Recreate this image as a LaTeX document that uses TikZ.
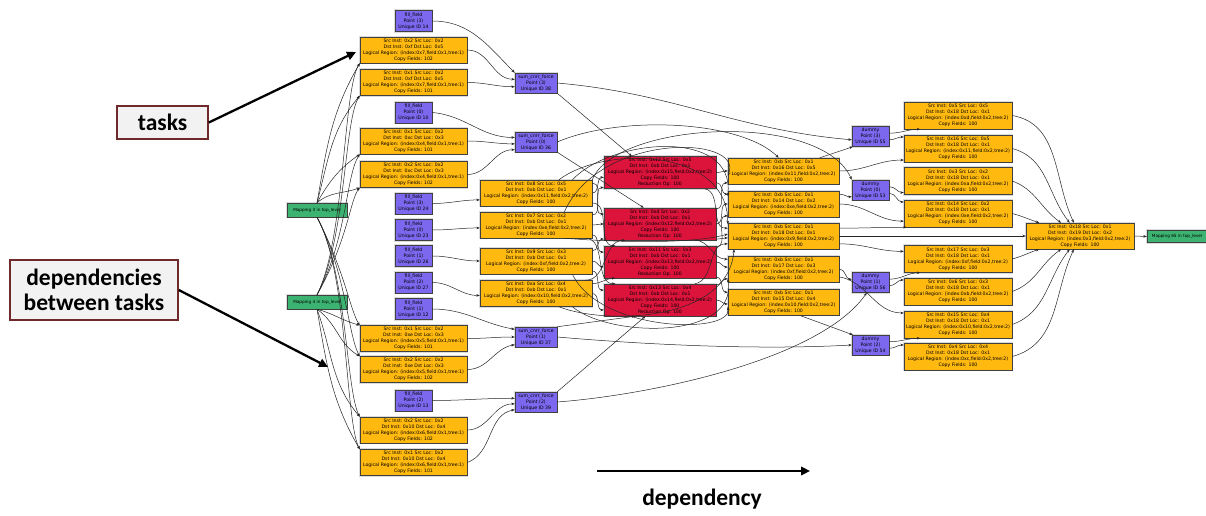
\documentclass[tikz,border=0pt]{standalone}
\usepackage{fontspec}
\newfontfamily\labfont{Carlito}
\newfontfamily\boxfont{DejaVu Sans}
\usetikzlibrary{arrows.meta}
\definecolor{gorange}{HTML}{FFB90F}
\definecolor{gred}{HTML}{DC143C}
\definecolor{gpurple}{HTML}{7B68EE}
\definecolor{ggreen}{HTML}{3CB371}
\definecolor{callborder}{HTML}{6E2A2A}
\definecolor{callfill}{HTML}{F2F2F2}
\newcommand\cpbox[6]{Src Inst: #1 Src Loc: #2\\Dst Inst: #3 Dst Loc: #4\\Logical Region: (#5)\\Copy Fields: #6}
\newcommand\rdbox[5]{Src Inst: #1 Src Loc: #2\\Dst Inst: #3 Dst Loc: #4\\Logical Region: (#5)\\Copy Fields: 100\\Reduction Op: 100}
\begin{document}
\begin{tikzpicture}[x=1pt,y=-1pt,
  gbox/.style={draw=black!75, line width=0.5pt, inner sep=0pt, align=center,
    font=\boxfont\fontsize{4.65pt}{5.9pt}\selectfont,
    preaction={draw=black!14, line width=2.4pt}},
  ob/.style={gbox, fill=gorange, minimum width=107pt, minimum height=26pt},
  rb/.style={gbox, fill=gred, minimum width=112pt, minimum height=32pt},
  pb/.style={gbox, fill=gpurple, minimum width=37pt, minimum height=21pt},
  gb/.style={gbox, fill=ggreen, minimum width=60pt, minimum height=14pt,
    font=\boxfont\fontsize{4.2pt}{5pt}\selectfont},
  e/.style={draw=black!85, line width=0.5pt, -{Stealth[length=3.4pt,width=2.6pt]}},
  call/.style={draw=callborder, line width=1.6pt, fill=callfill,
    font=\labfont\bfseries\fontsize{23.5pt}{25pt}\selectfont, inner sep=0pt, align=center},
  big/.style={line width=2.3pt, -{Triangle[length=9pt,width=8.5pt]}}
]
\fill[white] (0,0) rectangle (1206,516);
\useasboundingbox (0,0) rectangle (1206,516);

% ---------------- left column
\node[pb] (f14) at (413.5,21) {fill\_field\\Point (3)\\Unique ID 14};
\node[ob] (o1) at (413.5,50) {\cpbox{0x2}{0x2}{0xf}{0x5}{index:0x7,field:0x1,tree:1}{102}};
\node[ob] (o2) at (413.5,82.5) {\cpbox{0x1}{0x2}{0xf}{0x5}{index:0x7,field:0x1,tree:1}{101}};
\node[pb] (f10) at (413.5,112.5) {fill\_field\\Point (0)\\Unique ID 10};
\node[ob] (o3) at (413.5,141) {\cpbox{0x1}{0x2}{0xc}{0x3}{index:0x4,field:0x1,tree:1}{101}};
\node[ob] (o4) at (413.5,174.5) {\cpbox{0x2}{0x2}{0xc}{0x3}{index:0x4,field:0x1,tree:1}{102}};
\node[pb] (f24) at (413.5,203.5) {fill\_field\\Point (3)\\Unique ID 24};
\node[pb] (f23) at (413.5,230) {fill\_field\\Point (0)\\Unique ID 23};
\node[pb] (f26) at (413.5,256) {fill\_field\\Point (1)\\Unique ID 26};
\node[pb] (f27) at (413.5,282.5) {fill\_field\\Point (2)\\Unique ID 27};
\node[pb] (f12) at (413.5,309) {fill\_field\\Point (1)\\Unique ID 12};
\node[ob] (o5) at (413.5,338.5) {\cpbox{0x1}{0x2}{0xe}{0x3}{index:0x5,field:0x1,tree:1}{101}};
\node[ob] (o6) at (413.5,369.5) {\cpbox{0x2}{0x2}{0xe}{0x3}{index:0x5,field:0x1,tree:1}{102}};
\node[pb] (f13) at (413.5,400.5) {fill\_field\\Point (2)\\Unique ID 13};
\node[ob] (o7) at (413.5,430) {\cpbox{0x2}{0x2}{0x10}{0x4}{index:0x6,field:0x1,tree:1}{102}};
\node[ob] (o8) at (413.5,462.5) {\cpbox{0x1}{0x2}{0x10}{0x4}{index:0x6,field:0x1,tree:1}{101}};
\node[gb] (m3) at (317,210) {Mapping 3 in top\_level};
\node[gb] (m4) at (317,302) {Mapping 4 in top\_level};

% ---------------- sum column
\node[pb, minimum width=42pt, minimum height=20pt] (s38) at (536,83) {sum\_cnrr\_force\\Point (3)\\Unique ID 38};
\node[pb, minimum width=42pt, minimum height=20pt] (s36) at (536,142) {sum\_cnrr\_force\\Point (0)\\Unique ID 36};
\node[pb, minimum width=42pt, minimum height=20pt] (s37) at (536,337) {sum\_cnrr\_force\\Point (1)\\Unique ID 37};
\node[pb, minimum width=42pt, minimum height=20pt] (s39) at (536,402) {sum\_cnrr\_force\\Point (2)\\Unique ID 39};
\node[ob, minimum width=112pt] (mo1) at (536,193) {\cpbox{0x8}{0x5}{0xb}{0x1}{index:0x11,field:0x2,tree:2}{100}};
\node[ob, minimum width=112pt] (mo2) at (536,225) {\cpbox{0x7}{0x2}{0xb}{0x1}{index:0xe,field:0x2,tree:2}{100}};
\node[ob, minimum width=112pt] (mo3) at (536,261) {\cpbox{0x9}{0x3}{0xb}{0x1}{index:0xf,field:0x2,tree:2}{100}};
\node[ob, minimum width=112pt] (mo4) at (536,293.5) {\cpbox{0xa}{0x4}{0xb}{0x1}{index:0x10,field:0x2,tree:2}{100}};

% ---------------- reductions
\node[rb] (r1) at (660,172.5) {\rdbox{0x12}{0x5}{0xb}{0x1}{index:0x15,field:0x2,tree:2}};
\node[rb] (r2) at (660,224) {\rdbox{0xd}{0x2}{0xb}{0x1}{index:0x12,field:0x2,tree:2}};
\node[rb] (r3) at (660,262) {\rdbox{0x11}{0x3}{0xb}{0x1}{index:0x13,field:0x2,tree:2}};
\node[rb] (r4) at (660,300) {\rdbox{0x13}{0x4}{0xb}{0x1}{index:0x14,field:0x2,tree:2}};

% ---------------- right orange column
\node[ob, minimum width=111pt] (ro1) at (783.5,171) {\cpbox{0xb}{0x1}{0x16}{0x5}{index:0x11,field:0x2,tree:2}{100}};
\node[ob, minimum width=111pt] (ro2) at (783.5,204) {\cpbox{0xb}{0x1}{0x14}{0x2}{index:0xe,field:0x2,tree:2}{100}};
\node[ob, minimum width=111pt] (ro3) at (783.5,236) {\cpbox{0xb}{0x1}{0x18}{0x1}{index:0x9,field:0x2,tree:2}{100}};
\node[ob, minimum width=111pt] (ro4) at (783.5,269) {\cpbox{0xb}{0x1}{0x17}{0x3}{index:0xf,field:0x2,tree:2}{100}};
\node[ob, minimum width=111pt] (ro5) at (783.5,302) {\cpbox{0xb}{0x1}{0x15}{0x4}{index:0x10,field:0x2,tree:2}{100}};

% ---------------- dummies
\node[pb, minimum height=20pt] (d55) at (870.5,136.5) {dummy\\Point (3)\\Unique ID 55};
\node[pb, minimum height=20pt] (d53) at (870.5,190) {dummy\\Point (0)\\Unique ID 53};
\node[pb, minimum height=20pt] (d56) at (870.5,282.5) {dummy\\Point (1)\\Unique ID 56};
\node[pb, minimum height=20pt] (d54) at (870.5,345) {dummy\\Point (2)\\Unique ID 54};

% ---------------- far right column
\node[ob, minimum width=108pt, minimum height=27pt] (fr1) at (958,115.5) {\cpbox{0x5}{0x5}{0x18}{0x1}{index:0xd,field:0x2,tree:2}{100}};
\node[ob, minimum width=108pt, minimum height=27pt] (fr2) at (958,148.5) {\cpbox{0x16}{0x5}{0x18}{0x1}{index:0x11,field:0x2,tree:2}{100}};
\node[ob, minimum width=108pt, minimum height=27pt] (fr3) at (958,181) {\cpbox{0x3}{0x2}{0x18}{0x1}{index:0xa,field:0x2,tree:2}{100}};
\node[ob, minimum width=108pt, minimum height=27pt] (fr4) at (958,213.5) {\cpbox{0x14}{0x2}{0x18}{0x1}{index:0xe,field:0x2,tree:2}{100}};
\node[ob, minimum width=108pt, minimum height=27pt] (fr5) at (958,259) {\cpbox{0x17}{0x3}{0x18}{0x1}{index:0xf,field:0x2,tree:2}{100}};
\node[ob, minimum width=108pt, minimum height=27pt] (fr6) at (958,291.5) {\cpbox{0x6}{0x3}{0x18}{0x1}{index:0xb,field:0x2,tree:2}{100}};
\node[ob, minimum width=108pt, minimum height=27pt] (fr7) at (958,324.5) {\cpbox{0x15}{0x4}{0x18}{0x1}{index:0x10,field:0x2,tree:2}{100}};
\node[ob, minimum width=108pt, minimum height=27pt] (fr8) at (958,356.5) {\cpbox{0x4}{0x4}{0x18}{0x1}{index:0xc,field:0x2,tree:2}{100}};
\node[ob, minimum width=108pt] (fin) at (1080,236) {\cpbox{0x18}{0x1}{0x19}{0x2}{index:0x3,field:0x2,tree:2}{100}};
\node[gb, minimum height=12pt] (m65) at (1177,236.5) {Mapping 65 in top\_level};

% ================= edges: mappings to copies
\draw[e] (m3.north) to[out=80,in=240] (o1.south west);
\draw[e] (m3.north) to[out=75,in=230] (o2.south west);
\draw[e] (m3.north) to[out=60,in=215] (o3.south west);
\draw[e] (m3.north) to[out=40,in=200] (o4.south west);
\draw[e] (m4.north) .. controls (345,240) and (343,90) .. (o1.south west);
\draw[e] (m4.north) .. controls (346,240) and (344,120) .. (o2.south west);
\draw[e] (m4.north) .. controls (347,240) and (346,175) .. (o3.south west);
\draw[e] (m4.north) .. controls (348,240) and (350,200) .. (o4.south west);
\draw[e] (m3.south) .. controls (345,272) and (350,310) .. (o5.north west);
\draw[e] (m3.south) .. controls (346,272) and (348,335) .. (o6.north west);
\draw[e] (m3.south) .. controls (347,272) and (346,390) .. (o7.north west);
\draw[e] (m3.south) .. controls (348,272) and (345,420) .. (o8.north west);
\draw[e] (m4.south) to[out=-15,in=165] (o5.north west);
\draw[e] (m4.south) to[out=-35,in=150] (o6.north west);
\draw[e] (m4.south) to[out=-70,in=130] (o7.north west);
\draw[e] (m4.south) to[out=-80,in=120] (o8.north west);

% copies / fills to sums
\draw[e] (f14.east) to[out=0,in=135] (s38.north west);
\draw[e] (o1.east) to[out=0,in=180] (s38.170);
\draw[e] (o2.east) to[out=0,in=180] (s38.190);
\draw[e] (f10.east) to[out=-5,in=180] (s36.168);
\draw[e] (o3.east) to[out=0,in=180] (s36.185);
\draw[e] (o4.east) to[out=0,in=180] (s36.200);
\draw[e] (f24.east) to[out=0,in=180] (mo1.187);
\draw[e] (f23.east) to[out=0,in=180] (mo2.183);
\draw[e] (f26.east) to[out=0,in=180] (mo3.180);
\draw[e] (f27.east) to[out=0,in=180] (mo4.182);
\draw[e] (f12.east) to[out=0,in=170] (s37.160);
\draw[e] (o5.east) to[out=0,in=180] (s37.180);
\draw[e] (o6.east) to[out=0,in=190] (s37.200);
\draw[e] (f13.east) to[out=0,in=180] (s39.170);
\draw[e] (o7.east) to[out=0,in=180] (s39.185);
\draw[e] (o8.east) to[out=20,in=190] (s39.200);

% sums to middle/right
\draw[e] (s38.south east) -- (r1.150);
\draw[e] (s38.east) to[out=-5,in=175] (d55.190);
\draw[e] (s36.south east) -- (r2.135);
\draw[e] (s36.east) .. controls (620,115) and (740,120) .. (ro1.110);
\draw[e] (mo1.north east) .. controls (615,122) and (820,110) .. (d53.north west);
\draw[e] (s37.north east) -- (r4.213);
\draw[e] (s39.north east) -- (r4.228);
\draw[e] (s37.east) .. controls (650,345) and (760,350) .. (d54.west);
\draw[e] (s39.east) .. controls (650,395) and (820,360) .. (d56.250);

% middle oranges to reductions
\draw[e] (mo1.east) to[out=0,in=180] (r1.185);
\draw[e] (mo1.10) to[out=0,in=180] (r2.170);
\draw[e] (mo1.350) to[out=0,in=180] (r3.160);
\draw[e] (mo2.10) to[out=0,in=180] (r1.195);
\draw[e] (mo2.east) to[out=0,in=180] (r2.180);
\draw[e] (mo2.350) to[out=0,in=180] (r3.170);
\draw[e] (mo2.345) to[out=0,in=180] (r4.160);
\draw[e] (mo3.10) to[out=0,in=180] (r2.195);
\draw[e] (mo3.east) to[out=0,in=180] (r3.185);
\draw[e] (mo3.350) to[out=0,in=180] (r4.170);
\draw[e] (mo4.10) to[out=0,in=180] (r3.200);
\draw[e] (mo4.east) to[out=0,in=180] (r4.190);
\draw[e] (mo4.15) to[out=0,in=180] (r2.205);

% loops around reductions
\draw[e] (mo1.20) .. controls (612,138) and (735,128) .. (ro2.172);
\draw[e] (mo2.25) .. controls (600,132) and (745,135) .. (ro1.185);
\draw[e] (mo1.30) .. controls (605,145) and (728,148) .. (ro3.168);
\draw[e] (mo4.340) .. controls (610,338) and (738,340) .. (ro4.190);
\draw[e] (mo3.340) .. controls (600,332) and (732,335) .. (ro5.185);
\draw[e] (mo4.330) .. controls (605,325) and (728,322) .. (ro3.195);
\draw[e] (mo2.335) .. controls (640,244) and (700,242) .. (ro3.178);

% reductions to right oranges
\draw[e] (r1.east) to[out=0,in=180] (ro1.west);
\draw[e] (r1.350) to[out=0,in=180] (ro2.170);
\draw[e] (r1.340) to[out=-10,in=180] (ro3.172);
\draw[e] (r2.15) to[out=0,in=180] (ro1.192);
\draw[e] (r2.east) to[out=0,in=180] (ro2.180);
\draw[e] (r2.345) to[out=0,in=180] (ro3.182);
\draw[e] (r2.335) to[out=0,in=180] (ro4.170);
\draw[e] (r3.15) to[out=0,in=180] (ro2.192);
\draw[e] (r3.east) to[out=0,in=180] (ro4.178);
\draw[e] (r3.345) to[out=0,in=180] (ro5.170);
\draw[e] (r4.15) to[out=0,in=180] (ro4.190);
\draw[e] (r4.east) to[out=0,in=180] (ro5.182);
\draw[e] (r4.25) to[out=10,in=180] (ro3.188);

% right oranges onward
\draw[e] (ro1.20) -- (d55.210);
\draw[e] (ro1.east) to[out=0,in=180] (fr2.192);
\draw[e] (ro2.10) to[out=0,in=180] (d53.200);
\draw[e] (ro2.east) to[out=0,in=180] (fr4.188);
\draw[e] (ro3.east) -- (fin.180);
\draw[e] (ro3.8) to[out=0,in=180] (fr4.195);
\draw[e] (ro3.352) to[out=0,in=180] (fr5.172);
\draw[e] (ro4.east) to[out=0,in=180] (d56.170);
\draw[e] (ro4.352) to[out=-10,in=180] (fr7.168);
\draw[e] (ro5.320) to[out=-20,in=160] (d54.150);

\draw[e] (d55.10) to[out=0,in=180] (fr1.200);
\draw[e] (d55.350) to[out=0,in=180] (fr2.168);
\draw[e] (d53.10) to[out=0,in=180] (fr3.192);
\draw[e] (d53.350) to[out=0,in=180] (fr4.168);
\draw[e] (d56.10) to[out=0,in=180] (fr5.200);
\draw[e] (d56.350) to[out=0,in=180] (fr6.168);
\draw[e] (d54.10) to[out=0,in=180] (fr7.200);
\draw[e] (d54.350) to[out=0,in=180] (fr8.168);

\draw[e] (fr1.east) to[out=-10,in=115] (fin.115);
\draw[e] (fr2.east) to[out=-15,in=128] (fin.128);
\draw[e] (fr3.east) to[out=-20,in=145] (fin.145);
\draw[e] (fr4.east) to[out=-15,in=162] (fin.162);
\draw[e] (fr5.east) to[out=15,in=198] (fin.198);
\draw[e] (fr6.east) to[out=20,in=215] (fin.215);
\draw[e] (fr7.east) to[out=20,in=232] (fin.232);
\draw[e] (fr8.east) to[out=15,in=245] (fin.245);
\draw[e] (fin.east) -- (m65.west);

% ================= annotations
\node[call, minimum width=91pt, minimum height=33pt] (tasks) at (162.5,122.5) {tasks};
\node[call, minimum width=168pt, minimum height=60pt] (deps) at (94,290) {dependencies\\between tasks};
\coordinate (tasksTip) at (356,52);
\coordinate (depsTip) at (328,367);
\draw[big] (tasks.east) -- (tasksTip);
\draw[big] (deps.east) -- (depsTip);
\coordinate (da) at (597,471);
\coordinate (db) at (810,471);
\draw[big] (da) -- (db);
\node[font=\labfont\bfseries\fontsize{23.5pt}{25pt}\selectfont] (dep) at (702,499) {dependency};
\end{tikzpicture}
\end{document}
